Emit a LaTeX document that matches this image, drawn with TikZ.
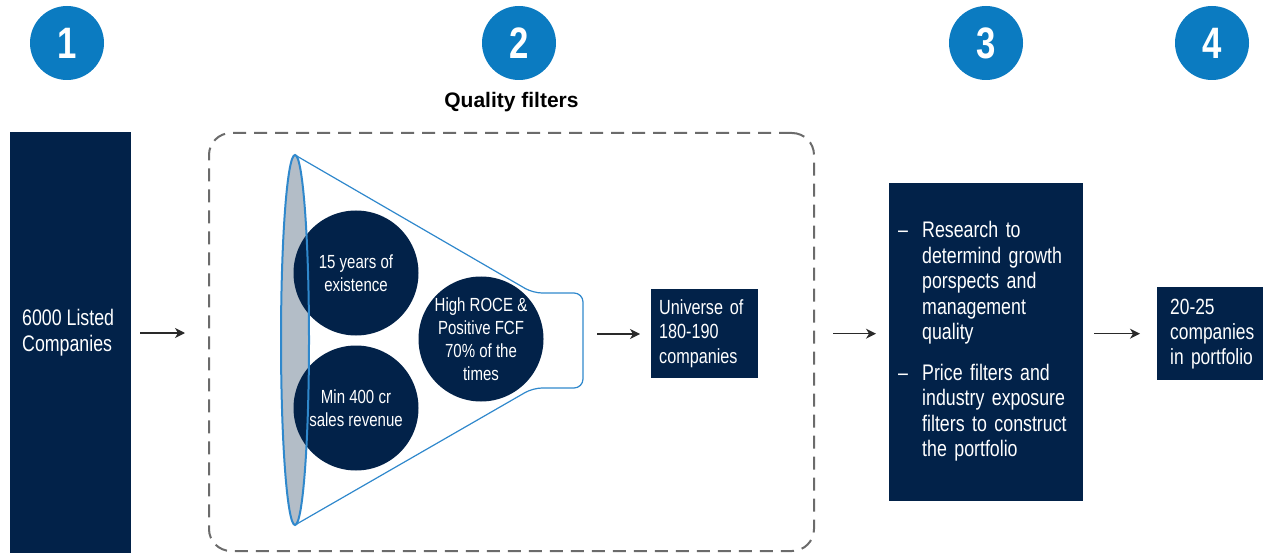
\documentclass[tikz,border=0pt]{standalone}
\usepackage{fontspec}
\setmainfont[FakeStretch=0.79]{Liberation Sans}
\newfontfamily\headfont{Liberation Sans}
\usepackage{tikz}
\usetikzlibrary{arrows.meta,positioning}
\definecolor{navy}{HTML}{022249}
\definecolor{stepblue}{HTML}{0B7BC1}
\definecolor{funnelblue}{HTML}{2F88CC}
\definecolor{funnelgray}{HTML}{B3BDC7}
\definecolor{dashgray}{HTML}{6B6B6B}
\definecolor{arrowgray}{HTML}{2A2A2A}

\begin{document}
\begin{tikzpicture}[x=1pt,y=-1pt,
  number/.style={circle,fill=stepblue,text=white,minimum size=74pt,inner sep=0pt,
    font=\fontsize{44}{44}\selectfont\bfseries},
  navybox/.style={fill=navy,text=white,align=left,inner sep=0pt},
  filter/.style={circle,fill=navy,text=white,minimum size=125pt,inner sep=0pt,
    align=center,font=\fontsize{19}{23}\selectfont},
  flow/.style={arrowgray,-{Stealth[length=10pt,width=10pt,inset=3pt]},line width=1.3pt}]
  \useasboundingbox (0,0) rectangle (1263,553);

  % step numbers
  \node (n1) [number] at (67,43) {1};
  \node (n2) [number] at (519,43) {2};
  \node (n3) [number] at (986,43) {3};
  \node (n4) [number] at (1212,43) {4};

  % step 1
  \node (listed) [navybox, minimum width=121pt, minimum height=430pt, anchor=north west] at (10,132) {};
  \node (listedtxt) [navybox, anchor=west, font=\fontsize{22.5}{26}\selectfont] at (22,333) {6000 Listed\\Companies};

  % step 2: the funnel
  \node (filters) [draw=dashgray, dash pattern=on 13pt off 8pt, line width=2pt, rounded corners=22pt,
    minimum width=605pt, minimum height=418pt, anchor=north west] at (208,132) {};
  \node (qtitle) [above=17pt of filters, font=\headfont\bfseries\fontsize{21}{21}\selectfont] {Quality filters};

  \draw[funnelblue, line width=1.2pt, rounded corners=9pt]
    (295,155) -- (533,293) -- (583,293) -- (583,388) -- (533,388) -- (295,525);
  \coordinate (mouth) at (583,334);
  \fill[funnelgray] (295,340) ellipse [x radius=14, y radius=185];

  \node (age) [filter] at (356,273) {15 years of\\existence};
  \node (sales) [filter] at (356,408) {Min 400 cr\\sales revenue};
  \node (roce) [filter] at (481,339) {High ROCE \&\\Positive FCF\\70\% of the\\times};

  \draw[funnelblue, line width=2pt] (295,340) ellipse [x radius=14, y radius=185];

  \node (universe) [navybox, minimum width=107pt, minimum height=89pt, text width=91pt,
    font=\fontsize{20.5}{24.5}\selectfont, anchor=north west] at (651,289) {Universe of\\180-190\\companies};

  % step 3
  \node (research) [navybox, minimum width=194pt, minimum height=318pt, text width=176pt,
    font=\fontsize{22.5}{25.5}\selectfont, anchor=north west] at (889,183) {%
    \begin{tabular}{@{}p{24pt}@{}l@{}}
      -- & Research to\\
         & determind growth\\
         & porspects and\\
         & management\\
         & quality\\[15pt]
      -- & Price filters and\\
         & industry exposure\\
         & filters to construct\\
         & the portfolio
    \end{tabular}};

  % step 4
  \node (portfolio) [navybox, minimum width=112pt, minimum height=93pt, text width=86pt,
    font=\fontsize{22}{25}\selectfont, anchor=north west] at (1157,287) {20-25\\companies\\in portfolio};

  % arrows
  \draw[flow, shorten <=9pt, shorten >=23pt] (listed.east |- listedtxt.center) -- (filters.west |- listedtxt.center);
  \draw[flow, shorten <=14pt, shorten >=11pt] (mouth) -- (universe.west |- mouth);
  \draw[flow, shorten <=18pt, shorten >=13pt] (filters.east |- universe.center) -- (research.west |- universe.center);
  \draw[flow, shorten <=11pt, shorten >=17pt] (research.east |- universe.center) -- (portfolio.west |- universe.center);
\end{tikzpicture}
\end{document}
